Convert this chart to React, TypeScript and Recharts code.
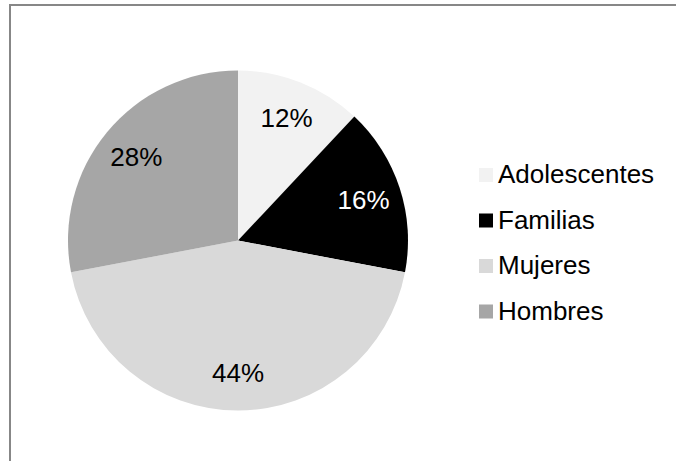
import React from "react";
import { PieChart, Pie, Cell, Legend } from "recharts";

const categories = ["Adolescentes", "Familias", "Mujeres", "Hombres"];
const values = [12, 16, 44, 28];
const colors = ["#f2f2f2", "#000000", "#d9d9d9", "#a6a6a6"];
const labelColors = ["#000000", "#ffffff", "#000000", "#000000"];

const data = categories.map((name, i) => ({ name, value: values[i] }));

const FONT = "'Liberation Sans', Arial, sans-serif";
const FONT_SIZE = 26;
const RAD = Math.PI / 180;

const renderLabel = (props: any) => {
  const { cx, cy, midAngle, index, value } = props;
  const r = 132;
  const x = cx + r * Math.cos(-midAngle * RAD);
  const y = cy + r * Math.sin(-midAngle * RAD);
  return (
    <text
      x={x}
      y={y + FONT_SIZE * 0.358}
      textAnchor="middle"
      fill={labelColors[index]}
      fontFamily={FONT}
      fontSize={FONT_SIZE}
    >
      {`${value}%`}
    </text>
  );
};

const renderLegend = () => (
  <svg width={200} height={200}>
    {categories.map((c, i) => (
      <g key={c}>
        <rect x={9} y={18 + 45.5 * i} width={14} height={14} fill={colors[i]} />
        <text
          x={28}
          y={33.4 + 45.5 * i}
          fontFamily={FONT}
          fontSize={FONT_SIZE}
          fill="#000000"
        >
          {c}
        </text>
      </g>
    ))}
  </svg>
);

export default function App() {
  return (
    <div
      style={{
        position: "absolute",
        left: 0,
        top: 0,
        width: 676,
        height: 461,
        background: "#ffffff",
        overflow: "hidden",
      }}
    >
      <div
        style={{
          position: "absolute",
          left: 9,
          top: 4,
          width: 700,
          height: 500,
          borderLeft: "2px solid #878787",
          borderTop: "2px solid #878787",
          boxSizing: "border-box",
        }}
      />
      <PieChart
        width={676}
        height={461}
        margin={{ top: 0, right: 0, bottom: 0, left: 0 }}
        style={{ position: "absolute", left: 0, top: 0 }}
      >
        <Pie
          data={data}
          dataKey="value"
          nameKey="name"
          cx={238}
          cy={240.5}
          outerRadius={170}
          startAngle={90}
          endAngle={-270}
          stroke="none"
          label={renderLabel}
          labelLine={false}
          isAnimationActive={false}
        >
          {data.map((d, i) => (
            <Cell key={d.name} fill={colors[i]} />
          ))}
        </Pie>
        <Legend
          content={renderLegend}
          wrapperStyle={{ position: "absolute", left: 470, top: 150, width: 200, height: 200 }}
        />
      </PieChart>
    </div>
  );
}
